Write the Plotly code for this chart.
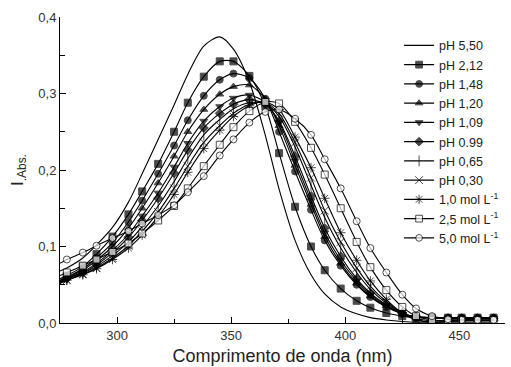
import plotly.graph_objects as go

# Wavelength grid (nm)
wavelength = [275, 278, 285, 291, 298, 305, 311, 318, 325, 331, 338, 345, 351, 358, 365,
              371, 378, 385, 391, 398, 405, 411, 418, 425, 431, 438, 445, 451, 458, 465]

ph_550 = [0.068, 0.072, 0.085, 0.102, 0.125, 0.158, 0.195, 0.240, 0.285, 0.325, 0.362, 0.374, 0.358, 0.315, 0.245,
          0.175, 0.108, 0.063, 0.038, 0.021, 0.012, 0.007, 0.004, 0.002, 0.001, 0.001, 0.001, 0.001, 0.001, 0.001]
ph_212 = [0.058, 0.062, 0.074, 0.090, 0.113, 0.142, 0.172, 0.208, 0.250, 0.288, 0.322, 0.342, 0.342, 0.323, 0.283,
          0.222, 0.152, 0.100, 0.069, 0.045, 0.029, 0.020, 0.013, 0.009, 0.007, 0.007, 0.007, 0.007, 0.007, 0.007]
ph_148 = [0.056, 0.060, 0.071, 0.085, 0.105, 0.132, 0.160, 0.195, 0.232, 0.265, 0.297, 0.318, 0.326, 0.320, 0.293,
          0.250, 0.198, 0.148, 0.108, 0.075, 0.050, 0.034, 0.021, 0.012, 0.008, 0.007, 0.007, 0.007, 0.007, 0.007]
ph_120 = [0.055, 0.059, 0.069, 0.082, 0.100, 0.124, 0.150, 0.183, 0.218, 0.250, 0.279, 0.299, 0.309, 0.311, 0.293,
          0.258, 0.206, 0.155, 0.113, 0.078, 0.052, 0.035, 0.022, 0.012, 0.008, 0.007, 0.007, 0.006, 0.006, 0.006]
ph_109 = [0.054, 0.058, 0.067, 0.078, 0.095, 0.116, 0.140, 0.170, 0.204, 0.235, 0.264, 0.283, 0.294, 0.298, 0.288,
          0.262, 0.212, 0.160, 0.118, 0.082, 0.055, 0.037, 0.023, 0.012, 0.008, 0.007, 0.006, 0.006, 0.006, 0.006]
ph_099 = [0.054, 0.058, 0.066, 0.076, 0.092, 0.112, 0.134, 0.163, 0.196, 0.226, 0.255, 0.274, 0.286, 0.292, 0.286,
          0.264, 0.218, 0.166, 0.124, 0.087, 0.058, 0.039, 0.024, 0.013, 0.008, 0.007, 0.006, 0.006, 0.006, 0.006]
ph_065 = [0.053, 0.057, 0.065, 0.074, 0.088, 0.106, 0.126, 0.153, 0.185, 0.215, 0.246, 0.266, 0.280, 0.288, 0.287,
          0.270, 0.230, 0.180, 0.138, 0.098, 0.066, 0.044, 0.026, 0.013, 0.006, 0.003, 0.003, 0.004, 0.004, 0.004]
ph_030 = [0.052, 0.056, 0.064, 0.072, 0.085, 0.101, 0.120, 0.145, 0.176, 0.205, 0.236, 0.258, 0.274, 0.286, 0.288,
          0.274, 0.236, 0.190, 0.147, 0.106, 0.072, 0.048, 0.028, 0.013, 0.005, 0.001, 0.002, 0.003, 0.003, 0.003]
m_10 = [0.052, 0.056, 0.063, 0.071, 0.083, 0.098, 0.115, 0.139, 0.168, 0.197, 0.228, 0.252, 0.270, 0.284, 0.289,
        0.279, 0.243, 0.203, 0.163, 0.118, 0.082, 0.055, 0.031, 0.013, 0.004, 0.001, 0.002, 0.003, 0.003, 0.003]
m_25 = [0.062, 0.066, 0.075, 0.083, 0.093, 0.104, 0.117, 0.134, 0.153, 0.176, 0.205, 0.233, 0.256, 0.277, 0.289,
        0.287, 0.263, 0.229, 0.194, 0.150, 0.106, 0.073, 0.043, 0.021, 0.009, 0.004, 0.003, 0.004, 0.004, 0.004]
m_50 = [0.078, 0.083, 0.092, 0.101, 0.111, 0.120, 0.130, 0.141, 0.154, 0.171, 0.192, 0.219, 0.240, 0.262, 0.276,
        0.279, 0.267, 0.246, 0.214, 0.176, 0.133, 0.098, 0.066, 0.037, 0.019, 0.009, 0.005, 0.004, 0.004, 0.004]

series_names = ["pH 5,50", "pH 2,12", "pH 1,48", "pH 1,20", "pH 1,09", "pH 0.99",
                "pH 0,65", "pH 0,30", "1,0 mol L<sup>-1</sup>", "2,5 mol L<sup>-1</sup>",
                "5,0 mol L<sup>-1</sup>"]
series_values = [ph_550, ph_212, ph_148, ph_120, ph_109, ph_099, ph_065, ph_030, m_10, m_25, m_50]

# marker styles: (symbol, fill colour)
styles = [None,
          ("square", "black"), ("circle", "black"), ("triangle-up", "black"),
          ("triangle-down", "black"), ("diamond", "black"), ("line-ns-open", "black"),
          ("x-thin-open", "black"), ("asterisk-open", "black"),
          ("square", "white"), ("circle", "white")]

fig = go.Figure()
n = len(wavelength)
sizes = [0] + [7] * (n - 1)
for name, vals, st in zip(series_names, series_values, styles):
    if st is None:
        fig.add_trace(go.Scatter(x=wavelength, y=vals, name=name, mode="lines",
                                 line=dict(color="black", width=1.1, shape="spline", smoothing=0.8)))
    else:
        sym, fill = st
        ms = [s + 1 if sym in ("line-ns-open", "x-thin-open", "asterisk-open") else s for s in sizes]
        fig.add_trace(go.Scatter(x=wavelength, y=vals, name=name, mode="lines+markers",
                                 line=dict(color="black", width=1.1, shape="spline", smoothing=0.8),
                                 marker=dict(symbol=sym, size=ms, color=fill,
                                             line=dict(color="black", width=1))))

FONT = "Liberation Sans, Arial, sans-serif"
axis_font = dict(family=FONT, size=13, color="#333333")
fig.update_layout(
    width=511, height=367,
    margin=dict(l=60, r=6, t=17, b=44),
    paper_bgcolor="white", plot_bgcolor="white",
    separators=", ",
    showlegend=True,
    legend=dict(x=0.762, y=0.955, xanchor="left", yanchor="top",
                font=dict(family=FONT, size=12.5, color="#222222"),
                bgcolor="rgba(0,0,0,0)", tracegroupgap=0, itemwidth=30),
    font=axis_font,
)
fig.update_xaxes(range=[275, 470], showline=True, linecolor="black", linewidth=1,
                 ticks="inside", ticklen=6, tickcolor="black", dtick=50, tick0=300,
                 showgrid=False, zeroline=False, tickfont=axis_font,
                 minor=dict(dtick=25, ticks="inside", ticklen=4, tickcolor="black", showgrid=False),
                 title=dict(text="Comprimento de onda (nm)", standoff=7,
                            font=dict(family=FONT, size=18, color="#222222")))
fig.update_yaxes(range=[0, 0.4], showline=True, linecolor="black", linewidth=1,
                 ticks="inside", ticklen=6, tickcolor="black", dtick=0.1, tickformat=".1f",
                 showgrid=False, zeroline=False, tickfont=axis_font,
                 minor=dict(dtick=0.05, ticks="inside", ticklen=5, tickcolor="black", showgrid=False),
                 title=dict(text="I<sub>.Abs.</sub>", standoff=10,
                            font=dict(family=FONT, size=17, color="#222222")))

fig.write_html("out.html", config={"displayModeBar": False},
               post_script="document.body.style.margin='0px';")
